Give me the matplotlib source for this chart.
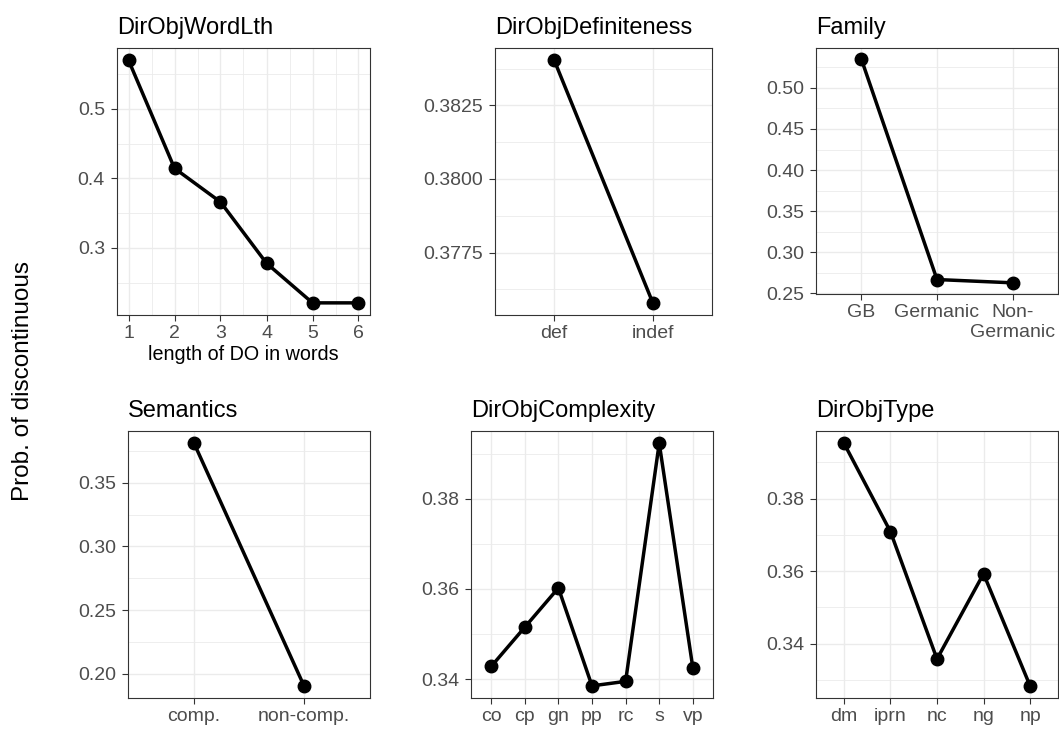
import matplotlib
matplotlib.use("Agg")
import matplotlib.pyplot as plt
from matplotlib.ticker import MultipleLocator, AutoMinorLocator, FormatStrFormatter

plt.rcParams["font.family"] = ["Liberation Sans", "DejaVu Sans"]

# effect estimates
word_lengths = [1, 2, 3, 4, 5, 6]
wordlth_probs = [0.570, 0.4145, 0.366, 0.278, 0.221, 0.221]

definiteness_levels = ["def", "indef"]
definiteness_probs = [0.38404, 0.37579]

family_levels = ["GB", "Germanic", "Non-\nGermanic"]
family_probs = [0.535, 0.2667, 0.2627]

semantics_levels = ["comp.", "non-comp."]
semantics_probs = [0.381, 0.1906]

complexity_levels = ["co", "cp", "gn", "pp", "rc", "s", "vp"]
complexity_probs = [0.3428, 0.3515, 0.3602, 0.3385, 0.3395, 0.3923, 0.3425]

type_levels = ["dm", "iprn", "nc", "ng", "np"]
type_probs = [0.3953, 0.3709, 0.3358, 0.3593, 0.3284]

W, H = 1059, 731
fig = plt.figure(figsize=(W / 100, H / 100), dpi=100)


def box(left, right, top, bottom):
    return [left / W, 1 - bottom / H, (right - left) / W, (bottom - top) / H]


def style(ax, title, ystep, yfmt):
    ax.set_title(title, loc="left", fontsize=17, pad=10, color="black")
    ax.yaxis.set_major_locator(MultipleLocator(ystep))
    ax.yaxis.set_minor_locator(AutoMinorLocator(2))
    ax.yaxis.set_major_formatter(FormatStrFormatter(yfmt))
    ax.margins(y=0.05)
    ax.grid(which="major", color="#EBEBEB", linewidth=1.0)
    ax.grid(which="minor", color="#EBEBEB", linewidth=0.6)
    ax.set_axisbelow(True)
    for s in ax.spines.values():
        s.set_color("#333333")
        s.set_linewidth(0.8)
    ax.tick_params(which="major", length=4.2, width=0.8, color="#333333",
                   labelsize=14, labelcolor="#4D4D4D")
    ax.tick_params(axis="x", pad=3)
    ax.tick_params(axis="y", pad=4.5)
    ax.tick_params(which="minor", length=0)


def draw(ax, xs, ys):
    ax.plot(xs, ys, color="black", linewidth=2.5, marker="o",
            markersize=9, markerfacecolor="black", markeredgecolor="black",
            zorder=3)


def discrete(ax, levels, probs, title, ystep, yfmt):
    pos = list(range(len(levels)))
    draw(ax, pos, probs)
    ax.set_xticks(pos)
    ax.set_xticklabels(levels)
    ax.set_xlim(-0.6, len(levels) - 0.4)
    ax.xaxis.set_minor_locator(plt.NullLocator())
    style(ax, title, ystep, yfmt)


# top row
ax1 = fig.add_axes(box(117, 370, 48, 315))
draw(ax1, word_lengths, wordlth_probs)
ax1.set_xticks(word_lengths)
ax1.xaxis.set_minor_locator(AutoMinorLocator(2))
ax1.margins(x=0.05)
style(ax1, "DirObjWordLth", 0.1, "%.1f")
ax1.set_xlabel("length of DO in words", fontsize=14.2, labelpad=2)

ax2 = fig.add_axes(box(495, 712, 48, 315))
discrete(ax2, definiteness_levels, definiteness_probs, "DirObjDefiniteness", 0.0025, "%.4f")

ax3 = fig.add_axes(box(816, 1058, 48, 294))
discrete(ax3, family_levels, family_probs, "Family", 0.05, "%.2f")

# bottom row
ax4 = fig.add_axes(box(128, 370, 431, 698))
discrete(ax4, semantics_levels, semantics_probs, "Semantics", 0.05, "%.2f")

ax5 = fig.add_axes(box(471, 713, 431, 698))
discrete(ax5, complexity_levels, complexity_probs, "DirObjComplexity", 0.02, "%.2f")

ax6 = fig.add_axes(box(816, 1058, 431, 698))
discrete(ax6, type_levels, type_probs, "DirObjType", 0.02, "%.2f")

fig.text(23.5 / W, 1 - 381 / H, "Prob. of discontinuous", rotation=90,
         ha="center", va="center", fontsize=17.5)

fig.savefig("out.png", dpi=100)
